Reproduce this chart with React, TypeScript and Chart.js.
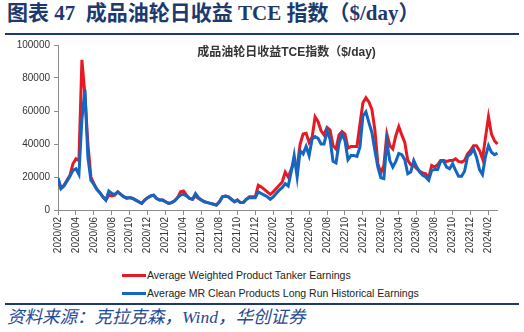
import React, { useEffect, useRef } from "react";
import { Chart, registerables } from "chart.js";

Chart.register(...registerables);

// ---- data ----
const headerTitle = "图表 47  成品油轮日收益 TCE 指数（$/day）";
const chartTitle = "成品油轮日收益TCE指数（$/day)";
const sourceNote = "资料来源：克拉克森，Wind，华创证券";

const tickLabels = [
  "2020/02", "2020/04", "2020/06", "2020/08", "2020/10", "2020/12",
  "2021/02", "2021/04", "2021/06", "2021/08", "2021/10", "2021/12",
  "2022/02", "2022/04", "2022/06", "2022/08", "2022/10", "2022/12",
  "2023/02", "2023/04", "2023/06", "2023/08", "2023/10", "2023/12",
  "2024/02",
];
const MONTHS_PER_TICK = 2;

// one sample every third of a month, starting 2020/02
const SAMPLE_STEP_MONTHS = 1 / 3;

const seriesNames = [
  "Average Weighted Product Tanker Earnings",
  "Average MR Clean Products Long Run Historical Earnings",
];
const seriesColors = ["#E51A22", "#1366C2"];

const weightedEarnings = [
  19000, 13000, 15000, 18000, 21000, 28000, 31000, 30000, 91000, 70000,
  40000, 20000, 16000, 12500, 10500, 8000, 6000, 9000, 8500, 9000,
  11000, 9500, 8000, 7000, 7500, 7000, 6000, 5000, 4000, 6000,
  7500, 8500, 9000, 7000, 6000, 6000, 5000, 4000, 4500, 5500,
  7500, 11000, 11500, 9000, 7000, 6500, 8500, 7000, 6000, 5000,
  4500, 4000, 3500, 3000, 5000, 8000, 8500, 8000, 6500, 5000,
  6000, 4500, 4500, 6500, 8000, 8000, 8000, 15000, 14000, 12500,
  11000, 9500, 11000, 13000, 15000, 17000, 23000, 20000, 24500, 29000,
  26000, 40000, 46000, 46500, 41000, 44000, 56500, 53500, 48000, 45500,
  50000, 48500, 39000, 37000, 45500, 47500, 46000, 37500, 38500, 38500,
  38500, 52000, 65000, 68000, 65500, 61000, 48500, 28000, 22500, 27000,
  46000, 39000, 37000, 45000, 50500, 45500, 41000, 30000, 27500, 27000,
  25000, 23500, 22500, 22000, 19500, 27000, 26000, 27500, 30000, 30000,
  29500, 30000, 30000, 31000, 29500, 29000, 30000, 34000, 36000, 39000,
  39000, 36000, 31000, 44000, 56500, 46000, 42000, 40000, 37000,
];

const mrEarnings = [
  19500, 13000, 14500, 17500, 20500, 24000, 25000, 21500, 55000, 73000,
  32000, 18000, 15500, 12500, 10500, 8000, 6000, 11500, 10000, 9500,
  11000, 9500, 8000, 7500, 7500, 7000, 6000, 5000, 4000, 6000,
  7500, 8500, 9000, 7000, 6000, 6000, 5000, 4000, 4500, 5500,
  7500, 9000, 9500, 8500, 7000, 6500, 10000, 7500, 6000, 5000,
  4500, 4000, 3500, 3000, 5000, 8000, 8500, 8000, 6500, 5000,
  6000, 4500, 4500, 6500, 7500, 7500, 7500, 11000, 10000, 9000,
  8000, 6500, 8000, 10000, 12000, 13500, 16000, 14500, 23000, 33000,
  20000, 36000, 34000, 38500, 33000, 43000, 44500, 43500, 40000, 40000,
  48000, 43000, 29500, 28500, 40500, 46000, 42000, 30500, 33000, 33000,
  32500, 38000, 57000, 59500, 53000, 47000, 36000, 26000, 19500, 19000,
  41000, 30000, 26000, 29500, 34300, 33500, 30500, 22000, 23000, 30000,
  26000, 23000, 21000, 20000, 18000, 24000, 24500, 24500, 29500, 29500,
  26000, 25000, 28000, 24000, 20500, 20500, 23500, 32500, 34000, 37000,
  32000, 24500, 21500, 32500, 39000, 35000, 33500, 34500, 33000,
];

const NAVY = "#1C3A6E";

const toPoints = (vals: number[]) =>
  vals.map((v, i) => ({ x: i * SAMPLE_STEP_MONTHS, y: v }));

const innerTitlePlugin = {
  id: "innerTitle",
  afterDraw(chart: any) {
    const { ctx, chartArea } = chart;
    ctx.save();
    ctx.font = 'bold 12px "Liberation Sans", "Noto Sans CJK SC", sans-serif';
    ctx.fillStyle = "#333333";
    ctx.textAlign = "center";
    ctx.textBaseline = "middle";
    ctx.fillText(chartTitle, (chartArea.left + chartArea.right) / 2 + 9, chartArea.top + 8);
    ctx.restore();
  },
};

export default function App() {
  const canvasRef = useRef<HTMLCanvasElement | null>(null);

  useEffect(() => {
    if (!canvasRef.current) return;
    const chart = new Chart(canvasRef.current, {
      type: "line",
      data: {
        datasets: [
          {
            label: seriesNames[0],
            data: toPoints(weightedEarnings),
            borderColor: seriesColors[0],
            backgroundColor: seriesColors[0],
            borderWidth: 3,
            pointRadius: 0,
            tension: 0,
            order: 1,
            clip: { left: 0, top: 0, right: 6, bottom: 0 } as any,
          },
          {
            label: seriesNames[1],
            data: toPoints(mrEarnings),
            borderColor: seriesColors[1],
            backgroundColor: seriesColors[1],
            borderWidth: 3,
            pointRadius: 0,
            tension: 0,
            order: 0,
            clip: { left: 0, top: 0, right: 6, bottom: 0 } as any,
          },
        ],
      },
      options: {
        responsive: false,
        animation: false,
        layout: { padding: { left: 0, right: 27, top: 15, bottom: 0 } },
        plugins: {
          legend: { display: false },
          title: { display: false },
          tooltip: { enabled: false },
        },
        scales: {
          x: {
            type: "linear",
            min: 0,
            max: 48.95,
            afterBuildTicks: (scale: any) => {
              scale.ticks = tickLabels.map((_, i) => ({ value: i * MONTHS_PER_TICK }));
            },
            afterFit: (scale: any) => {
              scale.height = 52;
            },
            ticks: {
              autoSkip: false,
              minRotation: 90,
              maxRotation: 90,
              padding: 2,
              color: "#333333",
              font: { family: '"Liberation Sans", Arial, sans-serif', size: 10 },
              callback: (v: any) => tickLabels[Math.round(Number(v) / MONTHS_PER_TICK)] ?? "",
            },
            grid: {
              display: true,
              drawOnChartArea: false,
              drawTicks: true,
              tickLength: 5,
              color: "#8C8C8C",
            },
            border: { display: true, color: "#8C8C8C", width: 1 },
          },
          y: {
            min: 0,
            max: 100000,
            afterFit: (scale: any) => {
              scale.width = 58;
            },
            ticks: {
              stepSize: 20000,
              padding: 4,
              color: "#333333",
              font: { family: '"Liberation Sans", Arial, sans-serif', size: 10 },
              callback: (v: any) => String(v),
            },
            grid: {
              display: true,
              drawOnChartArea: false,
              drawTicks: true,
              tickLength: 4,
              color: "#8C8C8C",
            },
            border: { display: true, color: "#8C8C8C", width: 1 },
          },
        },
      },
      plugins: [innerTitlePlugin],
    });
    return () => chart.destroy();
  }, []);

  return (
    <div
      style={{
        position: "fixed",
        left: 0,
        top: 0,
        width: 524,
        height: 332,
        background: "#ffffff",
        overflow: "hidden",
      }}
    >
      <div
        style={{
          position: "absolute",
          left: 7,
          top: 2,
          fontFamily: '"Liberation Serif", "Noto Sans CJK SC", serif',
          fontWeight: "bold",
          fontSize: 21,
          lineHeight: "23px",
          color: NAVY,
          whiteSpace: "pre",
        }}
      >
        {headerTitle}
      </div>
      <div
        style={{
          position: "absolute",
          left: 5,
          top: 33,
          width: 514,
          height: 2,
          background: NAVY,
        }}
      />
      <div style={{ position: "absolute", left: 0, top: 30, width: 524, height: 232 }}>
        <canvas ref={canvasRef} width={524} height={232} style={{ display: "block" }} />
      </div>
      {seriesNames.map((name, i) => (
        <div
          key={name}
          style={{
            position: "absolute",
            left: 122,
            top: 266 + i * 18.4,
            height: 18,
            display: "flex",
            alignItems: "center",
            fontFamily: '"Liberation Sans", Arial, sans-serif',
            fontSize: 10.5,
            color: "#222222",
            whiteSpace: "nowrap",
          }}
        >
          <span
            style={{
              display: "inline-block",
              width: 24,
              height: 3,
              background: seriesColors[i],
              marginRight: 1,
            }}
          />
          <span>{name}</span>
        </div>
      ))}
      <div
        style={{
          position: "absolute",
          left: 5,
          top: 303,
          width: 514,
          height: 2,
          background: NAVY,
        }}
      />
      <div
        style={{
          position: "absolute",
          left: 7,
          top: 307,
          fontFamily: '"Liberation Serif", "Noto Sans CJK SC", serif',
          fontStyle: "italic",
          fontSize: 17.5,
          lineHeight: "20px",
          color: "#1F4A94",
          whiteSpace: "nowrap",
        }}
      >
        {sourceNote}
      </div>
    </div>
  );
}
